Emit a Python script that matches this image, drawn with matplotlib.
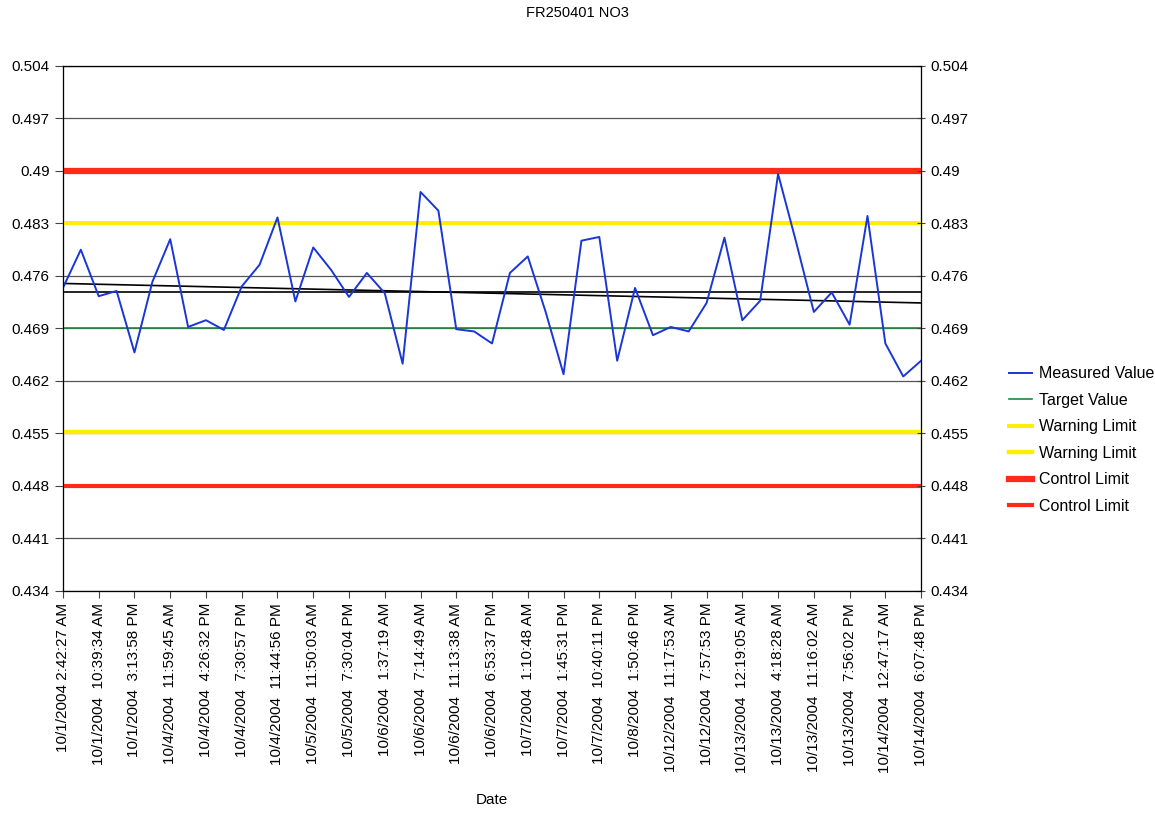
import numpy as np
import matplotlib.pyplot as plt

plt.rcParams['font.family'] = ['Liberation Sans', 'DejaVu Sans']

# Sample times (every second one is labelled on the axis)
tick_labels = [
    "10/1/2004 2:42:27 AM", "10/1/2004  10:39:34 AM", "10/1/2004  3:13:58 PM",
    "10/4/2004  11:59:45 AM", "10/4/2004  4:26:32 PM", "10/4/2004  7:30:57 PM",
    "10/4/2004  11:44:56 PM", "10/5/2004  11:50:03 AM", "10/5/2004  7:30:04 PM",
    "10/6/2004  1:37:19 AM", "10/6/2004  7:14:49 AM", "10/6/2004  11:13:38 AM",
    "10/6/2004  6:53:37 PM", "10/7/2004  1:10:48 AM", "10/7/2004  1:45:31 PM",
    "10/7/2004  10:40:11 PM", "10/8/2004  1:50:46 PM", "10/12/2004  11:17:53 AM",
    "10/12/2004  7:57:53 PM", "10/13/2004  12:19:05 AM", "10/13/2004  4:18:28 AM",
    "10/13/2004  11:16:02 AM", "10/13/2004  7:56:02 PM", "10/14/2004  12:47:17 AM",
    "10/14/2004  6:07:48 PM",
]

measured = [
    0.4744, 0.4795, 0.4733, 0.4740, 0.4658, 0.4752, 0.4809, 0.4692, 0.4701, 0.4688,
    0.4746, 0.4775, 0.4838, 0.4726, 0.4798, 0.4768, 0.4732, 0.4764, 0.4737, 0.4643,
    0.4872, 0.4847, 0.4689, 0.4686, 0.4670, 0.4764, 0.4786, 0.4712, 0.4629, 0.4807,
    0.4812, 0.4647, 0.4744, 0.4681, 0.4692, 0.4686, 0.4724, 0.4811, 0.4701, 0.4727,
    0.4896, 0.4806, 0.4712, 0.4738, 0.4695, 0.4840, 0.4670, 0.4626, 0.4647,
]

target = 0.4690
warning_hi, warning_lo = 0.4830, 0.4552
control_hi, control_lo = 0.4900, 0.4480
mean_value = 0.4738
trend_ends = [0.4750, 0.4724]

y_ticks = [0.434, 0.441, 0.448, 0.455, 0.462, 0.469, 0.476, 0.483, 0.490, 0.497, 0.504]

n = len(measured)
x = np.arange(n)

fig = plt.figure(figsize=(11.55, 8.14), dpi=100)
ax = fig.add_axes([0.0545, 0.274, 0.743, 0.645])

# gridlines at every tick
for t in y_ticks:
    ax.axhline(t, color='#555555', lw=0.9, zorder=1)

# mean and trend (not in legend)
ax.plot([0, n - 1], [mean_value] * 2, color='black', lw=1.2, zorder=2)
ax.plot([0, n - 1], trend_ends, color='black', lw=1.2, zorder=2)

ax.plot(x, measured, color='#1a35d8', lw=1.4, label='Measured Value', zorder=4)
ax.plot([0, n - 1], [target] * 2, color='#1f8a3c', lw=1.2, label='Target Value', zorder=3)
ax.plot([0, n - 1], [warning_hi] * 2, color='#ffee00', lw=2.8, label='Warning Limit', zorder=3)
ax.plot([0, n - 1], [warning_lo] * 2, color='#ffee00', lw=3.2, label='Warning Limit', zorder=3)
ax.plot([0, n - 1], [control_hi] * 2, color='#ff2a1a', lw=4.5, label='Control Limit', zorder=3)
ax.plot([0, n - 1], [control_lo] * 2, color='#ff2a1a', lw=3.0, label='Control Limit', zorder=3)

ax.set_xlim(0, n - 1)
ax.set_ylim(0.434, 0.504)
ax.set_yticks(y_ticks)
ax.set_yticklabels([f"{t:g}" for t in y_ticks], fontsize=11)
ax.set_xticks(x[::2])
ax.set_xticklabels(tick_labels, rotation=90, fontsize=11)
ax.tick_params(axis='y', length=6, width=0.8, color='#444444')
ax.tick_params(axis='x', length=5, width=0.8, color='#444444')

for s in ax.spines.values():
    s.set_color('#444444')
    s.set_linewidth(0.9)

ax2 = ax.twinx()
ax2.set_ylim(0.434, 0.504)
ax2.set_yticks(y_ticks)
ax2.set_yticklabels([f"{t:g}" for t in y_ticks], fontsize=11)
ax2.tick_params(axis='y', length=6, width=0.8, color='#444444', direction='inout')

ax.set_xlabel('Date', fontsize=11, labelpad=14)
fig.suptitle('FR250401 NO3', fontsize=10.5, y=0.993)

ax.legend(loc='upper left', bbox_to_anchor=(1.086, 0.455), frameon=False,
          fontsize=11.5, handlelength=1.4, handletextpad=0.45, labelspacing=0.72)

fig.savefig('out.png', dpi=100)
